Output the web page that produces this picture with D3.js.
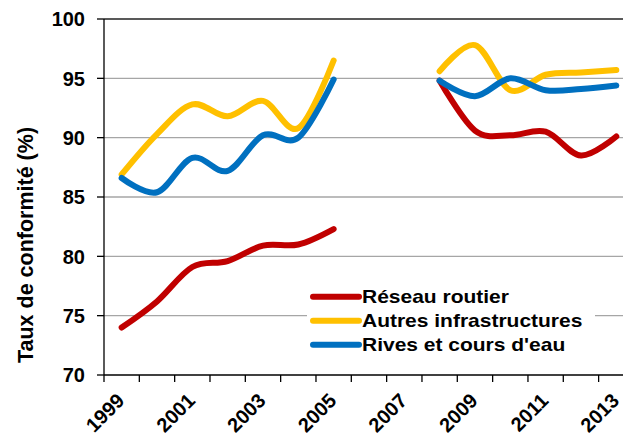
<!DOCTYPE html>
<html>
<head>
<meta charset="utf-8">
<script src="https://cdn.jsdelivr.net/npm/d3@7"></script>
<style>
  body { margin: 0; background: #fff; }
  svg { display: block; font-family: Arial, "Liberation Sans", sans-serif; }
</style>
</head>
<body>
<svg width="623" height="436"></svg>
<script>
const years = [1999, 2000, 2001, 2002, 2003, 2004, 2005, 2006, 2007, 2008, 2009, 2010, 2011, 2012, 2013];
const yearLabels = [1999, 2001, 2003, 2005, 2007, 2009, 2011, 2013];
const yTicks = [70, 75, 80, 85, 90, 95, 100];

const reseauRoutier = [74.0, 76.2, 79.1, 79.6, 80.9, 81.0, 82.3, null, null, 94.8, 90.6, 90.2, 90.5, 88.5, 90.1];
const autresInfra   = [86.9, 90.3, 92.8, 91.8, 93.1, 90.8, 96.5, null, null, 95.6, 97.8, 94.0, 95.3, 95.5, 95.7];
const rivesCours    = [86.6, 85.4, 88.3, 87.2, 90.2, 90.0, 94.9, null, null, 94.8, 93.5, 95.0, 94.0, 94.1, 94.4];

const seriesNames = ["Réseau routier", "Autres infrastructures", "Rives et cours d'eau"];
const seriesColors = ["#c00000", "#ffc000", "#0070c0"];
const seriesValues = [reseauRoutier, autresInfra, rivesCours];

const margin = { top: 19, left: 104, bottom: 375 },
      bandW = 35.33;

const svg = d3.select("svg");

const x = d3.scaleBand()
    .domain(years)
    .range([margin.left, margin.left + bandW * years.length])
    .paddingInner(0).paddingOuter(0);

const y = d3.scaleLinear()
    .domain([70, 100])
    .range([margin.bottom, margin.top]);

// gridlines
svg.append("g")
  .selectAll("line")
  .data(yTicks.filter(t => t > 70))
  .enter().append("line")
    .attr("x1", margin.left).attr("x2", 623)
    .attr("y1", d => y(d)).attr("y2", d => y(d))
    .attr("stroke", d => d === 100 ? "#222" : "#a6a6a6")
    .attr("stroke-width", 1.3);

// y axis
svg.append("line")
  .attr("x1", margin.left).attr("x2", margin.left)
  .attr("y1", margin.top).attr("y2", margin.bottom)
  .attr("stroke", "#000").attr("stroke-width", 1.3);

svg.append("g")
  .selectAll("line")
  .data(yTicks)
  .enter().append("line")
    .attr("x1", margin.left - 7).attr("x2", margin.left)
    .attr("y1", d => y(d)).attr("y2", d => y(d))
    .attr("stroke", "#000").attr("stroke-width", 1.3);

svg.append("g")
  .selectAll("text")
  .data(yTicks)
  .enter().append("text")
    .attr("x", 85)
    .attr("y", d => y(d))
    .attr("dy", "0.36em")
    .attr("text-anchor", "end")
    .attr("font-size", "20px")
    .attr("font-weight", "bold")
    .text(d => d);

// x axis
svg.append("line")
  .attr("x1", margin.left).attr("x2", 623)
  .attr("y1", margin.bottom).attr("y2", margin.bottom)
  .attr("stroke", "#000").attr("stroke-width", 1.3);

const boundaries = years.map(d => x(d)).concat([x(years[years.length - 1]) + bandW]);
svg.append("g")
  .selectAll("line")
  .data(boundaries)
  .enter().append("line")
    .attr("x1", d => d).attr("x2", d => d)
    .attr("y1", margin.bottom).attr("y2", margin.bottom + 7)
    .attr("stroke", "#000").attr("stroke-width", 1.3);

svg.append("g")
  .selectAll("text")
  .data(yearLabels)
  .enter().append("text")
    .attr("transform", d => `translate(${x(d) + bandW / 2 + 4}, 402) rotate(-45)`)
    .attr("text-anchor", "end")
    .attr("font-size", "20px")
    .attr("font-weight", "bold")
    .text(d => d);

// y title
svg.append("text")
  .attr("transform", "translate(33, 245) rotate(-90)")
  .attr("text-anchor", "middle")
  .attr("font-size", "21.5px")
  .attr("font-weight", "bold")
  .text("Taux de conformité (%)");

// lines
const line = d3.line()
    .defined(d => d.v !== null)
    .x(d => x(d.year) + bandW / 2)
    .y(d => y(d.v))
    .curve(d3.curveCatmullRom.alpha(0));

seriesValues.forEach((vals, i) => {
  svg.append("path")
    .datum(years.map((yr, j) => ({ year: yr, v: vals[j] })))
    .attr("fill", "none")
    .attr("stroke", seriesColors[i])
    .attr("stroke-width", 6)
    .attr("stroke-linecap", "round")
    .attr("stroke-linejoin", "round")
    .attr("d", line);
});

// --- Legend ---
const legend = svg.append("g");
legend.append("rect")
  .attr("x", 307).attr("y", 281)
  .attr("width", 288).attr("height", 78)
  .attr("fill", "#fff");

seriesNames.forEach((name, i) => {
  const row = legend.append("g")
    .attr("transform", `translate(313, ${296.7 + i * 24})`);
  row.append("line")
    .attr("x1", 0).attr("x2", 46)
    .attr("stroke", seriesColors[i])
    .attr("stroke-width", 6)
    .attr("stroke-linecap", "round");
  row.append("text")
    .attr("transform", "translate(49, 0) scale(1.2, 1)")
    .attr("dy", "0.36em")
    .attr("font-size", "17.5px")
    .attr("font-weight", "bold")
    .text(name);
});
</script>
</body>
</html>
